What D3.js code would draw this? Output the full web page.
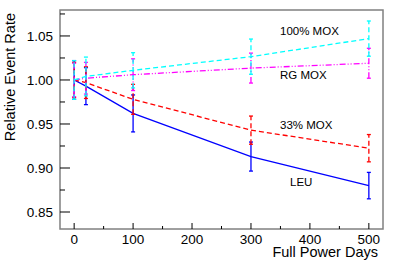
<!DOCTYPE html>
<html><head><meta charset="utf-8">
<script src="https://cdn.jsdelivr.net/npm/d3@7"></script>
<style>body{margin:0;background:#fff}text{font-family:"Liberation Sans",Arial,sans-serif}</style>
</head><body><svg id="c" width="399" height="260"></svg>
<script>
const days = [0, 20, 100, 300, 500];
const leu = [1.000, 0.993, 0.962, 0.913, 0.880];
const leuErr = [0.022, 0.021, 0.021, 0.0165, 0.015];
const mox33 = [1.000, 0.997, 0.978, 0.943, 0.9225];
const mox33Err = [0.020, 0.018, 0.017, 0.016, 0.0155];
const rgmox = [1.000, 1.002, 1.006, 1.0135, 1.019];
const rgmoxErr = [0.019, 0.018, 0.018, 0.017, 0.017];
const mox100 = [1.000, 1.004, 1.011, 1.0265, 1.047];
const mox100Err = [0.022, 0.022, 0.020, 0.020, 0.020];
const xTicks = [0, 100, 200, 300, 400, 500];
const yTicks = [0.85, 0.90, 0.95, 1.00, 1.05];

const series = [
  {name: "LEU", v: leu, e: leuErr, color: "#0000ff", dash: null, lx: 290, ly: 186},
  {name: "33% MOX", v: mox33, e: mox33Err, color: "#ff0000", dash: "5,3", lx: 280, ly: 129},
  {name: "RG MOX", v: rgmox, e: rgmoxErr, color: "#ff00ff", dash: "6,2,1,2,1,2", lx: 280, ly: 79},
  {name: "100% MOX", v: mox100, e: mox100Err, color: "#00ffff", dash: "5,3", lx: 280, ly: 35}
];

const L = 60, R = 383, T = 10, B = 229;
const x = d3.scaleLinear().domain([-24, 524]).range([L, R]);
const y = d3.scaleLinear().domain([0.8307, 1.0795]).range([B, T]);
const svg = d3.select("#c");

// frame
svg.append("rect").attr("x", L).attr("y", T).attr("width", R - L).attr("height", B - T)
  .attr("fill", "none").attr("stroke", "#808080").attr("stroke-width", 1.5);

// y ticks
const yMinor = d3.range(0.85, 1.0751, 0.025);
svg.append("g").selectAll("line").data(yMinor).join("line")
  .attr("x1", L).attr("x2", (d, i) => L + (i % 2 === 0 ? 10 : 5))
  .attr("y1", d => y(d)).attr("y2", d => y(d)).attr("stroke", "#000");
svg.append("g").selectAll("text").data(yTicks).join("text")
  .attr("x", L - 7).attr("y", d => y(d) + 5).attr("text-anchor", "end")
  .attr("font-size", 13.5).text(d => d3.format(".2f")(d));

// x ticks
const xMinor = d3.range(0, 501, 50);
svg.append("g").selectAll("line").data(xMinor).join("line")
  .attr("x1", d => x(d)).attr("x2", d => x(d))
  .attr("y1", B).attr("y2", (d, i) => B - (i % 2 === 0 ? 6 : 3)).attr("stroke", "#000");
svg.append("g").selectAll("text").data(xTicks).join("text")
  .attr("x", d => x(d)).attr("y", 244).attr("text-anchor", "middle")
  .attr("font-size", 13.5).text(d => d);

// axis titles
svg.append("text").attr("x", 378).attr("y", 257).attr("text-anchor", "end")
  .attr("font-size", 14.5).text("Full Power Days");
svg.append("text").attr("transform", "translate(15,13) rotate(-90)").attr("text-anchor", "end")
  .attr("font-size", 14.5).text("Relative Event Rate");

const line = d3.line().x((d, i) => x(days[i])).y(d => y(d));
series.forEach(s => {
  const g = svg.append("g");
  g.append("path").attr("d", line(s.v)).attr("fill", "none")
    .attr("stroke", s.color).attr("stroke-width", 1.3).attr("stroke-dasharray", s.dash);
  s.v.forEach((v, i) => {
    const cx = x(days[i]);
    g.append("line").attr("x1", cx).attr("x2", cx).attr("y1", y(v - s.e[i])).attr("y2", y(v + s.e[i]))
      .attr("stroke", s.color).attr("stroke-width", 1.3).attr("stroke-dasharray", s.dash);
    [v - s.e[i], v + s.e[i]].forEach(w => {
      g.append("line").attr("x1", cx - 2).attr("x2", cx + 2).attr("y1", y(w)).attr("y2", y(w))
        .attr("stroke", s.color).attr("stroke-width", 1.3);
    });
  });
  svg.append("text").attr("x", s.lx).attr("y", s.ly).attr("font-size", 11.5).text(s.name);
});
</script></body></html>
